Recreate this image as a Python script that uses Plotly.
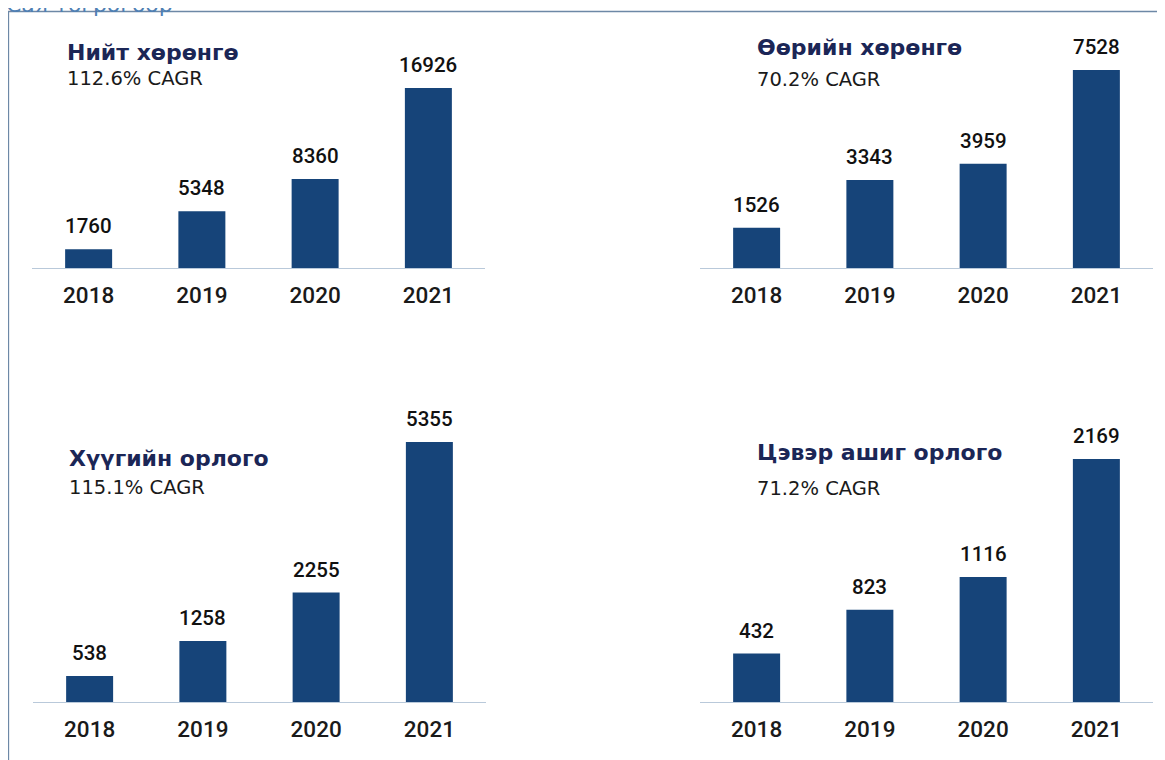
import plotly.graph_objects as go

years = ["2018", "2019", "2020", "2021"]
total_assets = [1760, 5348, 8360, 16926]
equity = [1526, 3343, 3959, 7528]
interest_income = [538, 1258, 2255, 5355]
net_income = [432, 823, 1116, 2169]

titles = ["Нийт хөрөнгө", "Өөрийн хөрөнгө", "Хүүгийн орлого", "Цэвэр ашиг орлого"]
subtitles = ["112.6% CAGR", "70.2% CAGR", "115.1% CAGR", "71.2% CAGR"]
unit_label = "Сая төгрөгөөр"

OFF = 8
W, H = 1165 - OFF, 760 - OFF
BAR = "#164479"
NAVY = "#1b2656"

def px_x(p):
    return (p - OFF) / W

def px_y(p):
    return 1 - (p - OFF) / H

series = [total_assets, equity, interest_income, net_income]
# panel geometry in window pixels: (x0, x1, top, baseline, px height of max bar)
panels = [
    (32, 485, 20, 268, 180),
    (700, 1153, 20, 268, 198),
    (33, 486, 420, 702, 260),
    (700, 1153, 420, 702, 243),
]
title_pos = [(65, 52, 78), (755, 47, 79), (67, 458, 487), (755, 452, 488)]

fig = go.Figure()
annotations = []
for i, (vals, (x0, x1, top, base, hpx)) in enumerate(zip(series, panels)):
    n = "" if i == 0 else str(i + 1)
    fig.add_trace(go.Bar(x=years, y=vals, marker_color=BAR, marker_line_width=0,
                         xaxis="x" + n, yaxis="y" + n, showlegend=False,
                         hoverinfo="x+y"))
    ymax = max(vals) * (base - top) / hpx
    fig.update_layout(**{
        "xaxis" + n: dict(domain=[px_x(x0), px_x(x1)], anchor="y" + n,
                          type="category", automargin=False,
                          range=[-0.5, len(years) - 0.5],
                          showline=True, linecolor="#b9c9da", linewidth=1,
                          showgrid=False, zeroline=False, ticks="",
                          ticklabelstandoff=7,
                          tickfont=dict(family="Roboto", size=22.5, color="#1a1a1a", weight=500)),
        "yaxis" + n: dict(domain=[px_y(base), px_y(top)], anchor="x" + n,
                          range=[0, ymax], visible=False, showgrid=False,
                          automargin=False),
    })
    for j, v in enumerate(vals):
        annotations.append(dict(x=j, y=v, xref="x" + n, yref="y" + n, text=str(v),
                                showarrow=False, yanchor="bottom", yshift=9,
                                font=dict(family="Roboto", size=20.5, color="#111111", weight=500)))
    tx, ty, sy = title_pos[i]
    annotations.append(dict(x=px_x(tx), y=px_y(ty), xref="paper", yref="paper",
                            text="<b>" + titles[i] + "</b>", showarrow=False,
                            xanchor="left", yanchor="middle",
                            font=dict(family="DejaVu Sans", size=22, color=NAVY)))
    annotations.append(dict(x=px_x(tx), y=px_y(sy), xref="paper", yref="paper",
                            text=subtitles[i], showarrow=False,
                            xanchor="left", yanchor="middle",
                            font=dict(family="DejaVu Sans", size=19.5, color="#1a1a1a")))

annotations.append(dict(x=px_x(4), y=px_y(4), xref="paper", yref="paper",
                        text=unit_label, showarrow=False, xanchor="left", yanchor="middle",
                        font=dict(family="DejaVu Sans", size=22, color="#4f7fb3")))

fig.update_layout(
    width=W, height=H,
    margin=dict(l=0, r=0, t=0, b=0, autoexpand=False),
    paper_bgcolor="white", plot_bgcolor="white",
    bargap=0.585,
    annotations=annotations,
    shapes=[
        dict(type="line", xref="paper", yref="paper", x0=px_x(8), x1=1.0,
             y0=px_y(11.5), y1=px_y(11.5), line=dict(color="#6d88a6", width=1.3)),
        dict(type="line", xref="paper", yref="paper", x0=px_x(8.5), x1=px_x(8.5),
             y0=px_y(11.5), y1=0, line=dict(color="#6d88a6", width=1.3)),
    ],
)

fig.write_html("out.html")
